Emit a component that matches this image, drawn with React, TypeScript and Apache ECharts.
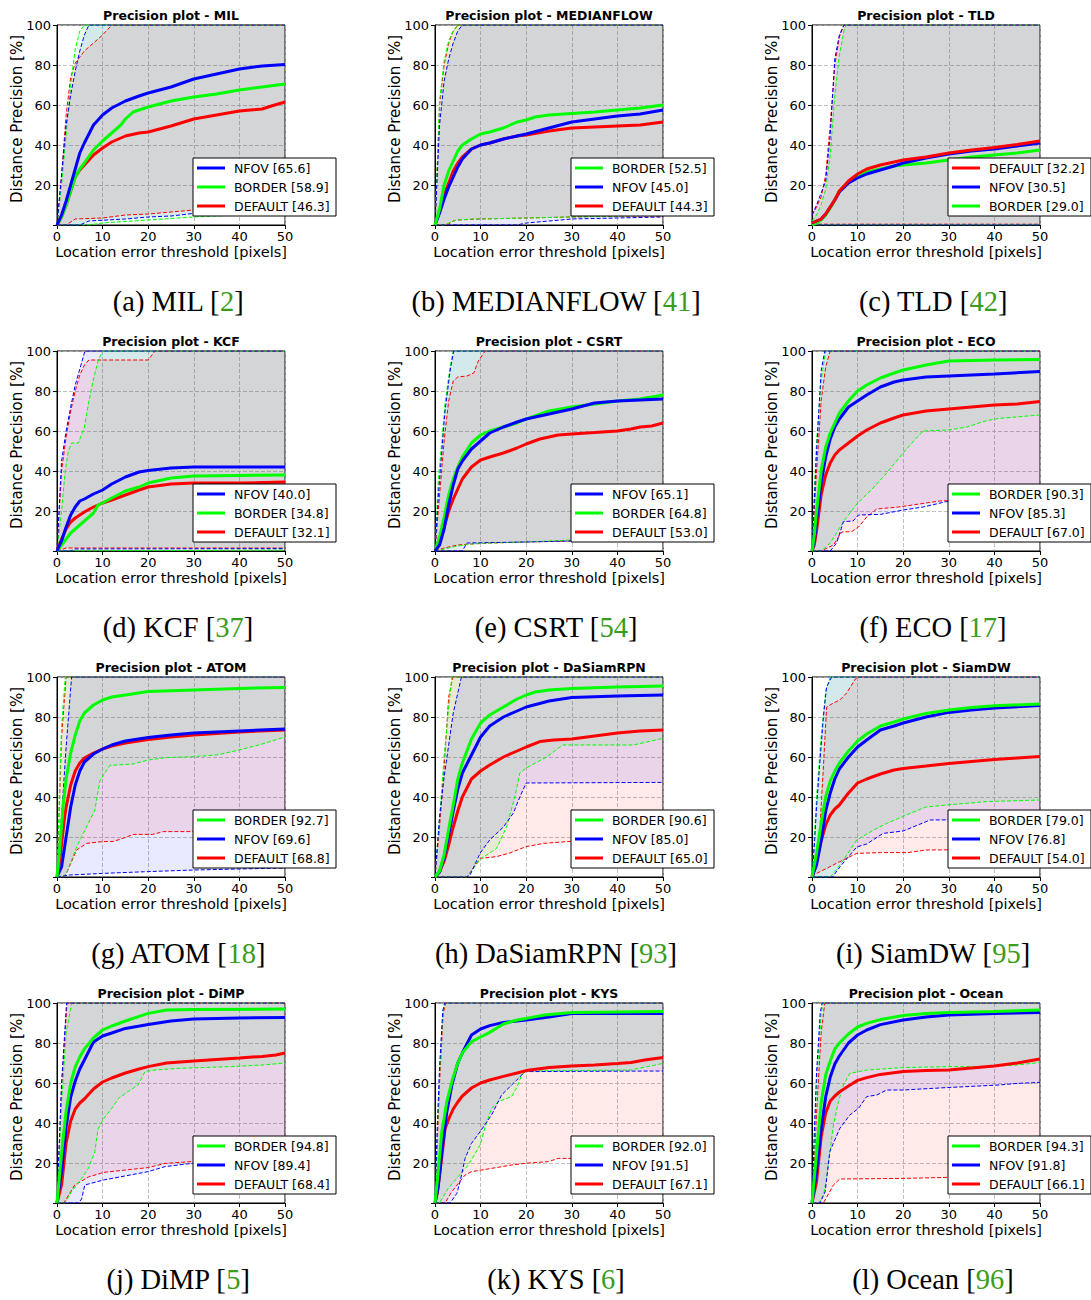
import React, { useEffect, useRef } from 'react';
import * as echarts from 'echarts';

type P = [number, number][];

// ---------------- (a) MIL ----------------
const MIL_N_MAIN: P = [[0,0],[1,5],[2,12],[3,20],[4,28],[5,36],[6,41],[8,50],[10,55],[12,58.5],[15,62],[18,64.5],[20,66],[25,69],[30,73],[35,75.5],[40,78],[45,79.5],[50,80.3]];
const MIL_B_MAIN: P = [[0,0],[1,4],[2,10],[3,17],[4,24],[5,28],[6,31],[8,37.5],[10,42],[12,46],[13,48],[14,50],[15,53],[16.7,56.5],[18,57.5],[20,59],[25,62],[30,64],[35,65.5],[40,67.5],[45,69],[50,70.5]];
const MIL_D_MAIN: P = [[0,0],[1,4],[2,10],[3,17],[4,24],[5,27.5],[6,30],[8,35],[10,38.5],[12,41.5],[15,44.5],[18,46],[20,46.5],[25,49.5],[30,53],[35,55],[40,57],[45,58],[47,59.5],[50,61.5]];
const MIL_N_UP: P = [[0,0],[1,25],[2,50],[3,65],[4,77],[5,87],[6,95],[7,100],[50,100]];
const MIL_B_UP: P = [[0,0],[1,20],[2,45],[3,70],[4,88],[5,97],[6,100],[50,100]];
const MIL_D_UP: P = [[0,0],[1,25],[2,55],[3,74],[4,81],[5,84],[6,87],[8,91],[10,95],[12,100],[50,100]];
const MIL_N_LO: P = [[0,0],[5,0],[7,2],[15,3],[20,4],[25,4.5],[30,5.8],[40,7],[50,8]];
const MIL_B_LO: P = [[0,0],[7,0],[10,1],[20,2.5],[30,4],[40,5],[50,6]];
const MIL_D_LO: P = [[0,0],[2,0],[4,3],[10,3.5],[15,5],[20,5.5],[25,6.5],[30,7.5],[40,8.5],[50,9]];
const MIL_SCORES = [['N', '65.6'], ['B', '58.9'], ['D', '46.3']];

// ---------------- (b) MEDIANFLOW ----------------
const MF_B_MAIN: P = [[0,0],[1,8],[2,20],[3,27],[4,32],[5,37],[6,40],[8,43],[10,45.5],[12,46.5],[15,48.5],[18,51.5],[20,52.5],[22,54],[25,55],[30,55.8],[35,56.5],[40,57.5],[45,58.5],[50,60]];
const MF_N_MAIN: P = [[0,0],[1,6],[2,13],[3,19],[4,24],[5,29],[6,33],[8,38],[10,40],[12,41],[15,43],[18,44.5],[20,45.5],[25,48.5],[30,51.5],[35,53],[40,54.5],[45,55.5],[50,57.5]];
const MF_D_MAIN: P = [[0,0],[1,7],[2,15],[3,21],[4,27],[5,31],[6,34],[8,38],[10,40],[12,41],[15,43],[18,44.5],[20,45],[25,47],[30,48.5],[35,49],[40,49.5],[45,50],[50,51.5]];
const MF_B_UP: P = [[0,0],[1,62],[2,82],[3,92],[4,97],[5,100],[50,100]];
const MF_N_UP: P = [[0,0],[1,50],[2,72],[3,83],[4,91],[5,97],[6,100],[50,100]];
const MF_D_UP: P = [[0,0],[1,60],[2,80],[3,91],[4,97],[5,100],[50,100]];
const MF_B_LO: P = [[0,0],[2,0],[3,1],[4,2],[5,2.5],[8,3],[10,3],[20,3.5],[30,4],[40,4.5],[50,5]];
const MF_N_LO: P = [[0,0],[18,0],[20,1],[25,2],[30,3],[40,3.5],[50,4]];
const MF_D_LO: P = [[0,0],[2,0],[3,0.5],[4,2],[5,2.5],[10,3],[20,3.5],[30,4],[40,4.5],[50,4.5]];
const MF_SCORES = [['B', '52.5'], ['N', '45.0'], ['D', '44.3']];

// ---------------- (c) TLD ----------------
const TLD_D_MAIN: P = [[0,1],[1,2],[2,3],[3,5.5],[4,9],[5,12.5],[6,17],[8,22],[10,25.5],[12,28],[15,30],[18,31.5],[20,32.5],[25,34],[30,36],[35,37.5],[40,38.8],[45,40.3],[50,42]];
const TLD_N_MAIN: P = [[0,1],[1,2],[2,3],[3,5.5],[4,9],[5,12.5],[6,16.5],[8,21],[10,23.5],[12,25.5],[15,27.5],[18,29.5],[20,31],[25,33.5],[30,35.5],[35,37],[40,38],[45,39.5],[50,41]];
const TLD_B_MAIN: P = [[0,0],[1,1],[2,2.5],[3,5],[4,8.5],[5,12.5],[6,17],[8,21.5],[10,24.5],[12,26.5],[15,28],[18,29.5],[20,30],[25,31],[30,32.5],[35,34],[40,35],[45,36],[50,37.5]];
const TLD_N_UP: P = [[0,5],[1,10],[2,16],[3,22],[4,45],[5,83],[6,95],[7,100],[50,100]];
const TLD_D_UP: P = [[0,5],[1,9],[2,14],[3,25],[4,50],[5,80],[6,94],[7,100],[50,100]];
const TLD_B_UP: P = [[0,2],[1,5],[2,10],[3,18],[4,35],[5,65],[6,85],[7,97],[7.5,100],[50,100]];
const TLD_N_LO: P = [[0,0],[50,0]];
const TLD_D_LO: P = [[0,0.4],[50,0.4]];
const TLD_B_LO: P = [[0,0],[50,0]];
const TLD_SCORES = [['D', '32.2'], ['N', '30.5'], ['B', '29.0']];

// ---------------- (d) KCF ----------------
const KCF_N_MAIN: P = [[0,0],[1,5],[2,12],[3,18],[4,22],[5,25],[6,26],[8,28.5],[10,30.5],[12,33.5],[15,37],[18,39.5],[20,40.3],[25,41.5],[30,42],[50,42]];
const KCF_B_MAIN: P = [[0,0],[1,3],[2,6],[3,9],[4,11],[5,13],[6,15],[8,19],[9,23],[10,24],[12,26.5],[15,30],[18,32],[20,34],[25,36.5],[30,37.5],[40,37.8],[50,38]];
const KCF_D_MAIN: P = [[0,0],[1,6],[2,11],[3,14.5],[4,16.5],[5,18],[6,19.5],[8,22],[10,24],[12,25.5],[15,28],[18,30.5],[20,32],[25,33.5],[30,34],[40,34],[50,34.5]];
const KCF_N_UP: P = [[0,0],[1,45],[2,60],[3,72],[4,83],[5,91],[6,99],[6.2,100],[50,100]];
const KCF_B_UP: P = [[0,0],[1,20],[1.8,40],[2.5,50],[3.2,54],[4.7,54],[6,62],[7,75],[8,86],[9,95],[10,100],[50,100]];
const KCF_D_UP: P = [[0,0],[1,40],[2,57],[3,70],[4,80],[5,88],[6,93],[7,95.5],[20,95.5],[21.5,100],[50,100]];
const KCF_N_LO: P = [[0,0],[3,0],[4,1],[50,1.2]];
const KCF_B_LO: P = [[0,0],[50,0.5]];
const KCF_D_LO: P = [[0,0],[2,1.5],[50,1.5]];
const KCF_SCORES = [['N', '40.0'], ['B', '34.8'], ['D', '32.1']];

// ---------------- (e) CSRT ----------------
const CSRT_N_MAIN: P = [[0,0],[1,3],[2,11],[3,23],[4,33],[5,41],[6,45],[8,51],[10,55],[12,59],[15,62],[18,64.5],[20,66],[25,68.5],[30,71],[35,74],[40,75],[45,75.5],[50,76]];
const CSRT_B_MAIN: P = [[0,0],[1,7],[2,17],[3,28],[4,36],[5,42],[6,47],[8,54],[10,58],[12,60],[15,62],[18,64],[20,66],[25,70],[30,72],[35,73.5],[40,75],[45,76],[50,78]];
const CSRT_D_MAIN: P = [[0,0],[1,5],[2,12],[3,20],[4,26],[5,31],[6,36],[8,42],[10,45.5],[12,47],[15,49],[18,51.5],[20,53.5],[23,56],[27,58],[30,58.5],[35,59.2],[40,60],[43,61],[45,62],[47.5,62.5],[50,64]];
const CSRT_N_UP: P = [[0,0],[0.8,30],[1.5,50],[2.2,70],[3.3,90],[4.1,100],[50,100]];
const CSRT_B_UP: P = [[0,0],[0.7,35],[1.5,55],[2.2,74],[3.3,92],[4,100],[50,100]];
const CSRT_D_UP: P = [[0,0],[1,28],[2,55],[3,75],[4,85],[5,87],[7,87.5],[8.5,89],[9.5,95],[11,100],[50,100]];
const CSRT_N_LO: P = [[0,0],[6,0],[7,4],[20,4.5],[30,5],[50,6]];
const CSRT_B_LO: P = [[0,0],[2,1],[5,2.5],[8,3.5],[12,4],[20,4.5],[30,5.5],[50,6.5]];
const CSRT_D_LO: P = [[0,0],[2,1.5],[5,3],[8,3.5],[12,4],[20,4.5],[30,5],[50,6]];
const CSRT_SCORES = [['N', '65.1'], ['B', '64.8'], ['D', '53.0']];

// ---------------- (f) ECO ----------------
const ECO_B_MAIN: P = [[0,0],[0.5,8],[1,20],[2,40],[3,52],[4,59],[5,64],[6,69],[8,75],[10,80],[12,83],[15,86.5],[18,89],[20,90.5],[25,93],[30,95],[40,95.5],[50,95.7]];
const ECO_N_MAIN: P = [[0,0],[0.5,5],[1,15],[2,34],[3,47],[4,56],[5,62],[6,66],[8,72],[10,75],[12,78],[15,82],[18,84.5],[20,85.5],[25,87],[30,87.5],[40,88.5],[50,89.7]];
const ECO_D_MAIN: P = [[0,0],[0.5,3],[1,10],[2,28],[3,38],[4,44],[5,48],[6,50.5],[8,54],[10,57.5],[12,60.5],[15,64],[18,66.5],[20,68],[25,70],[30,71],[35,72],[40,73],[45,73.5],[50,74.7]];
const ECO_B_UP: P = [[0,0],[0.5,30],[1,55],[2,85],[3,100],[50,100]];
const ECO_N_UP: P = [[0,0],[0.5,25],[1,50],[2,90],[2.8,100],[50,100]];
const ECO_D_UP: P = [[0,0],[1,40],[2,75],[3,92],[4,100],[50,100]];
const ECO_B_LO: P = [[0,0],[2,0],[4,4],[7,15],[10,24],[13,30.5],[16,38],[20,49],[22.5,55.5],[24.4,60],[30,60.5],[34,62],[38,65],[41,66.3],[50,68]];
const ECO_N_LO: P = [[0,0],[4,0],[5.4,4],[6.9,14.7],[9,15],[10.2,18],[15,18.3],[20,20.5],[24.4,22],[29.5,24.7],[50,27]];
const ECO_D_LO: P = [[0,0],[2,0],[4.7,3],[6.5,9.5],[8.7,9.7],[10.2,12],[12,17],[14.2,21],[19,22],[22,23],[28,25],[50,27]];
const ECO_SCORES = [['B', '90.3'], ['N', '85.3'], ['D', '67.0']];

// ---------------- (g) ATOM ----------------
const ATOM_B_MAIN: P = [[0,0],[0.7,17],[1.4,37],[2,49],[3,62],[4,71],[5,78],[6,82],[8,86],[10,88.5],[12,90],[15,91],[20,92.7],[30,93.5],[40,94.3],[50,94.8]];
const ATOM_N_MAIN: P = [[0,0],[1,5],[2,20],[3,35],[4,46],[5,53],[6,57.5],[8,61.5],[10,64],[12,66],[15,68],[20,69.8],[25,71],[30,72],[40,73],[50,74]];
const ATOM_D_MAIN: P = [[0,0],[0.7,10],[1.5,27],[2,35],[3,46],[4,53],[5,57],[6,59.5],[8,62],[10,64],[12,65.5],[15,67],[20,68.8],[25,70],[30,71],[40,72.5],[50,73.5]];
const ATOM_B_UP: P = [[0,0],[0.5,40],[1,75],[1.8,100],[50,100]];
const ATOM_N_UP: P = [[0,0],[1,30],[2,65],[3.2,100],[50,100]];
const ATOM_D_UP: P = [[0,0],[0.5,35],[1,70],[2,100],[50,100]];
const ATOM_B_LO: P = [[0,0],[1.4,0],[2.1,2],[4.3,15],[6.9,27],[8.3,33.5],[9.4,48],[10.5,52],[11.6,55.8],[16.7,56.5],[20,58.5],[24,59.7],[30,60.2],[35,61],[40,63.5],[45,66.5],[50,70]];
const ATOM_N_LO: P = [[0,0],[2.8,1],[10,1.8],[20,2.7],[30,3.5],[50,4.5]];
const ATOM_D_LO: P = [[0,0],[1.4,0],[2.1,2],[4.3,13.5],[6.5,16.8],[10,17.7],[12.4,17.8],[15.3,20],[16.7,21.3],[21,21.3],[23.3,22.7],[30,22.7],[50,23.5]];
const ATOM_SCORES = [['B', '92.7'], ['N', '69.6'], ['D', '68.8']];

// ---------------- (h) DaSiamRPN ----------------
const DSR_B_MAIN: P = [[0,0],[1,3],[2,11],[3,24],[4,36],[5,49],[6,57],[8,69],[10,77],[12,81],[15,85],[18,89],[20,91],[22,92.5],[25,93.5],[30,94.3],[40,95],[50,95.5]];
const DSR_N_MAIN: P = [[0,0],[1,2.5],[2,10],[3,21],[4,33],[5,44],[6,52],[8,61],[10,70],[12,75.5],[15,80],[18,83],[20,85],[25,88],[30,89.8],[40,90.5],[50,91]];
const DSR_D_MAIN: P = [[0,0],[1,2.5],[2,8],[3,16],[4,25],[5,33],[6,40],[8,49],[10,53],[12,56],[15,60],[18,63],[20,65],[23,67.7],[26,68.5],[30,69],[35,70.5],[40,72],[45,73],[50,73.5]];
const DSR_B_UP: P = [[0,0],[1,30],[2,60],[3,85],[3.7,100],[50,100]];
const DSR_N_UP: P = [[0,0],[1,30],[2,50],[3,66],[4,82],[5,92],[5.8,100],[50,100]];
const DSR_D_UP: P = [[0,0],[1,25],[2,55],[3,90],[3.9,100],[50,100]];
const DSR_B_LO: P = [[0,0],[7,0],[9,6],[10,9],[11.3,11],[13.5,14.3],[15.7,25],[17.5,40],[18.6,52],[20,54.5],[24.5,60],[28,66],[43.5,66],[50,69.3]];
const DSR_N_LO: P = [[0,0],[7,0],[7.7,1],[9.9,12],[12,18.5],[15,25],[17.2,32],[18.6,40],[20,47],[50,47.3]];
const DSR_D_LO: P = [[0,0],[7,0],[9.9,9.3],[13.5,10.2],[16.4,12],[20,15.2],[23.8,16.8],[29,17.7],[35,18.5],[50,20]];
const DSR_SCORES = [['B', '90.6'], ['N', '85.0'], ['D', '65.0']];

// ---------------- (i) SiamDW ----------------
const SDW_B_MAIN: P = [[0,0],[1,12],[2,27],[3,40],[4,48],[5,53],[6,57],[8,63],[10,68],[12,71.5],[15,75.5],[18,77.5],[20,79],[25,81.8],[30,83.5],[35,84.8],[40,85.6],[50,86.5]];
const SDW_N_MAIN: P = [[0,0],[1,6],[2,18],[3,33],[4,42],[5,49],[6,54],[8,60],[10,65],[12,68.5],[15,73.5],[18,75.5],[20,77],[25,80],[30,82.3],[35,83.5],[40,84.5],[50,85.7]];
const SDW_D_MAIN: P = [[0,0],[1,8],[2,18],[3,26],[4,31],[5,34],[6,36],[8,42],[10,47],[12,49],[15,51.5],[18,53.5],[20,54.3],[25,55.5],[30,56.8],[35,57.8],[40,58.7],[45,59.5],[50,60.3]];
const SDW_B_UP: P = [[0,0],[0.5,20],[1,40],[2,70],[3,93],[4,100],[50,100]];
const SDW_N_UP: P = [[0,0],[0.5,15],[1,35],[1.75,58],[2.5,80],[3.2,95],[4.3,100],[50,100]];
const SDW_D_UP: P = [[0,0],[1,10],[1.75,25],[2.5,55],[3.2,85],[4.7,87],[6.1,88.5],[7.6,92],[9.5,99],[10.2,100],[50,100]];
const SDW_B_LO: P = [[0,0],[4,0],[4.7,1.8],[6.9,8.5],[9.8,18.5],[13.5,23.5],[16.4,26.8],[21.5,31.8],[25,35],[29.5,36],[38.3,37.7],[50,38.5]];
const SDW_N_LO: P = [[0,0],[4.5,0],[6.1,5],[9.8,15],[12,16.5],[15.6,21.8],[20,23],[25.9,28.5],[50,29]];
const SDW_D_LO: P = [[0,0],[1,1.8],[3.2,4.3],[6.1,7.7],[9.8,11.8],[15,12.2],[21,12.2],[25,13.5],[50,14]];
const SDW_SCORES = [['B', '79.0'], ['N', '76.8'], ['D', '54.0']];

// ---------------- (j) DiMP ----------------
const DIMP_B_MAIN: P = [[0,0],[1,25],[2,46],[3,60],[4,68],[5,73],[6,77],[8,82.5],[10,86.5],[12,88.5],[15,91],[18,93.3],[20,94.8],[24,96.5],[30,96.8],[50,97]];
const DIMP_N_MAIN: P = [[0,0],[1,16],[2,38],[3,53],[4,61],[5,67],[6,71.5],[8,80.5],[10,83.5],[12,85],[15,87.3],[20,89.3],[25,91],[30,92],[40,92.5],[50,92.8]];
const DIMP_D_MAIN: P = [[0,0],[1,9],[2,30],[3,41],[4,47],[5,50],[6,52],[8,57],[10,60.5],[12,62.5],[15,65],[18,67],[20,68.2],[24,70],[30,71],[35,71.8],[40,72.5],[45,73.3],[48,74],[50,75]];
const DIMP_B_UP: P = [[0,0],[0.5,25],[1,50],[2,85],[3.2,100],[50,100]];
const DIMP_N_UP: P = [[0,0],[0.5,30],[1,60],[2.1,100],[50,100]];
const DIMP_D_UP: P = [[0,0],[0.5,28],[1,58],[2.2,100],[50,100]];
const DIMP_B_LO: P = [[0,0],[1.75,0],[3.2,5.7],[5.4,12.3],[6.9,17.3],[8.3,25.7],[9,37],[10.2,42],[12,47.3],[13.5,52.3],[15.6,55.7],[17.8,59],[19.3,65.7],[21.5,66.5],[26.6,67.3],[38.3,68.2],[45,69],[50,70]];
const DIMP_N_LO: P = [[0,0],[4.7,0],[5.4,2],[6.1,9],[10.2,11.5],[14.9,13.5],[20,15.7],[23.7,18.2],[29.5,19.8],[50,21]];
const DIMP_D_LO: P = [[0,0],[1.5,0],[3.9,9],[6.9,13],[10.2,15.3],[15,16.5],[20,17.7],[23.7,19.8],[29.5,20.7],[50,21.5]];
const DIMP_SCORES = [['B', '94.8'], ['N', '89.4'], ['D', '68.4']];

// ---------------- (k) KYS ----------------
const KYS_B_MAIN: P = [[0,0],[0.7,15.7],[1.5,35.7],[2.6,50.7],[3.7,60.7],[5,70],[6,75],[8,80.7],[10,83],[12,85.3],[15,89.5],[18,91.5],[20,92.3],[24,94],[30,95.3],[50,95.7]];
const KYS_N_MAIN: P = [[0,0],[0.7,8],[1.5,25.7],[2.6,45.7],[3.7,59],[5,70],[6,75],[8,84],[10,87],[12,88.7],[15,90.3],[20,91.5],[25,93],[30,94.8],[50,94.8]];
const KYS_D_MAIN: P = [[0,0],[0.5,5],[1.1,15.7],[2.2,37],[3,42],[4,47],[5,50.5],[6,53.5],[8,57.5],[10,60],[12,61.5],[15,63.3],[18,65],[20,66.2],[25,67.8],[30,68.5],[35,69],[40,69.8],[43,70.3],[46,71.5],[50,72.7]];
const KYS_B_UP: P = [[0,0],[0.5,35],[1,65],[1.7,95],[2.2,100],[50,100]];
const KYS_N_UP: P = [[0,0],[0.5,38],[1,68],[1.7,96],[2.1,100],[50,100]];
const KYS_D_UP: P = [[0,0],[0.5,30],[1,60],[1.8,95],[2.4,100],[50,100]];
const KYS_B_LO: P = [[0,0],[1,0],[2.9,7.3],[5.1,13.2],[7.3,19],[9.9,29],[11,38],[12.4,47.3],[13.9,50.7],[16.8,53.2],[18,58],[19,64],[20,66],[43,66.5],[50,69.8]];
const KYS_N_LO: P = [[0,0],[3.3,0],[4.8,4.8],[5.5,10.7],[6.6,22.3],[8,29.8],[9.9,35.7],[12.4,44],[14.6,54],[16.8,59],[18.3,62.3],[19.7,65.7],[50,66]];
const KYS_D_LO: P = [[0,0],[2.2,0],[3.7,5.7],[6.6,14],[8,15.7],[12.4,17.3],[16.8,19],[19.7,19.8],[24.9,20.7],[27,22.3],[30,22.3],[50,23.5]];
const KYS_SCORES = [['B', '92.0'], ['N', '91.5'], ['D', '67.1']];

// ---------------- (l) Ocean ----------------
const OCEAN_B_MAIN: P = [[0,0],[1,25],[2,50],[3,64],[4,71],[5,77],[6,80],[8,84.5],[10,88],[12,89.8],[15,91.7],[20,93.7],[25,94.8],[30,95.3],[40,95.8],[50,96.5]];
const OCEAN_N_MAIN: P = [[0,0],[1,16],[2,37],[3,53],[4,63],[5,69.5],[6,73.5],[8,80],[10,84],[12,86.5],[15,89.2],[20,91.5],[25,93],[30,94],[40,94.7],[50,95.3]];
const OCEAN_D_MAIN: P = [[0,0],[1,10.7],[2,33],[3,45],[4,51],[5,53.5],[6,55.5],[8,58.5],[10,61.3],[12,62.7],[15,64.3],[20,65.7],[25,66.2],[30,66.5],[35,67.5],[40,68.5],[45,70],[50,72]];
const OCEAN_B_UP: P = [[0,0],[0.5,30],[1,60],[2,95],[2.5,100],[50,100]];
const OCEAN_N_UP: P = [[0,0],[0.5,35],[1,65],[1.8,95],[2.2,100],[50,100]];
const OCEAN_D_UP: P = [[0,0],[0.5,20],[1,45],[2,85],[2.8,100],[50,100]];
const OCEAN_B_LO: P = [[0,0],[1.5,0],[2.5,4],[3.2,12.3],[4.7,39],[5.8,50.7],[6.9,59],[8.3,64.8],[12,66.5],[20,67.7],[30,68.2],[38,68.2],[45,69],[50,70.3]];
const OCEAN_N_LO: P = [[0,0],[1.75,0],[2.9,5.7],[3.9,25.7],[6.1,37.3],[8.3,44],[10.2,47.3],[12,53.2],[14.2,54],[16.4,56.5],[20,56.5],[29.5,57.7],[34,58.2],[41,59],[45,59.8],[50,60.3]];
const OCEAN_D_LO: P = [[0,0],[2.5,0],[4.7,9],[6.1,12],[20,12.3],[30,12.8],[50,13.5]];
const OCEAN_SCORES = [['B', '94.3'], ['N', '91.8'], ['D', '66.1']];

// ---------------- tick labels / texts ----------------
const X_TICKS = [0, 10, 20, 30, 40, 50];
const Y_TICKS = [20, 40, 60, 80, 100];
const X_NAME = 'Location error threshold [pixels]';
const Y_NAME = 'Distance Precision [%]';

type Curves = { [k: string]: [P, P, P] };
type Plot = { title: string; cap: string; cite: string; scores: string[][]; c: Curves };

const PLOTS: Plot[] = [
  { title: 'MIL', cap: '(a) MIL', cite: '2', scores: MIL_SCORES, c: { B: [MIL_B_MAIN, MIL_B_UP, MIL_B_LO], N: [MIL_N_MAIN, MIL_N_UP, MIL_N_LO], D: [MIL_D_MAIN, MIL_D_UP, MIL_D_LO] } },
  { title: 'MEDIANFLOW', cap: '(b) MEDIANFLOW', cite: '41', scores: MF_SCORES, c: { B: [MF_B_MAIN, MF_B_UP, MF_B_LO], N: [MF_N_MAIN, MF_N_UP, MF_N_LO], D: [MF_D_MAIN, MF_D_UP, MF_D_LO] } },
  { title: 'TLD', cap: '(c) TLD', cite: '42', scores: TLD_SCORES, c: { B: [TLD_B_MAIN, TLD_B_UP, TLD_B_LO], N: [TLD_N_MAIN, TLD_N_UP, TLD_N_LO], D: [TLD_D_MAIN, TLD_D_UP, TLD_D_LO] } },
  { title: 'KCF', cap: '(d) KCF', cite: '37', scores: KCF_SCORES, c: { B: [KCF_B_MAIN, KCF_B_UP, KCF_B_LO], N: [KCF_N_MAIN, KCF_N_UP, KCF_N_LO], D: [KCF_D_MAIN, KCF_D_UP, KCF_D_LO] } },
  { title: 'CSRT', cap: '(e) CSRT', cite: '54', scores: CSRT_SCORES, c: { B: [CSRT_B_MAIN, CSRT_B_UP, CSRT_B_LO], N: [CSRT_N_MAIN, CSRT_N_UP, CSRT_N_LO], D: [CSRT_D_MAIN, CSRT_D_UP, CSRT_D_LO] } },
  { title: 'ECO', cap: '(f) ECO', cite: '17', scores: ECO_SCORES, c: { B: [ECO_B_MAIN, ECO_B_UP, ECO_B_LO], N: [ECO_N_MAIN, ECO_N_UP, ECO_N_LO], D: [ECO_D_MAIN, ECO_D_UP, ECO_D_LO] } },
  { title: 'ATOM', cap: '(g) ATOM', cite: '18', scores: ATOM_SCORES, c: { B: [ATOM_B_MAIN, ATOM_B_UP, ATOM_B_LO], N: [ATOM_N_MAIN, ATOM_N_UP, ATOM_N_LO], D: [ATOM_D_MAIN, ATOM_D_UP, ATOM_D_LO] } },
  { title: 'DaSiamRPN', cap: '(h) DaSiamRPN', cite: '93', scores: DSR_SCORES, c: { B: [DSR_B_MAIN, DSR_B_UP, DSR_B_LO], N: [DSR_N_MAIN, DSR_N_UP, DSR_N_LO], D: [DSR_D_MAIN, DSR_D_UP, DSR_D_LO] } },
  { title: 'SiamDW', cap: '(i) SiamDW', cite: '95', scores: SDW_SCORES, c: { B: [SDW_B_MAIN, SDW_B_UP, SDW_B_LO], N: [SDW_N_MAIN, SDW_N_UP, SDW_N_LO], D: [SDW_D_MAIN, SDW_D_UP, SDW_D_LO] } },
  { title: 'DiMP', cap: '(j) DiMP', cite: '5', scores: DIMP_SCORES, c: { B: [DIMP_B_MAIN, DIMP_B_UP, DIMP_B_LO], N: [DIMP_N_MAIN, DIMP_N_UP, DIMP_N_LO], D: [DIMP_D_MAIN, DIMP_D_UP, DIMP_D_LO] } },
  { title: 'KYS', cap: '(k) KYS', cite: '6', scores: KYS_SCORES, c: { B: [KYS_B_MAIN, KYS_B_UP, KYS_B_LO], N: [KYS_N_MAIN, KYS_N_UP, KYS_N_LO], D: [KYS_D_MAIN, KYS_D_UP, KYS_D_LO] } },
  { title: 'Ocean', cap: '(l) Ocean', cite: '96', scores: OCEAN_SCORES, c: { B: [OCEAN_B_MAIN, OCEAN_B_UP, OCEAN_B_LO], N: [OCEAN_N_MAIN, OCEAN_N_UP, OCEAN_N_LO], D: [OCEAN_D_MAIN, OCEAN_D_UP, OCEAN_D_LO] } },
];

// ---------------- layout / style ----------------
const COL_LEFT = [57, 435, 812];
const ROW_TOP = [25, 351, 677, 1003];
const PW = 228;
const PH = 200;
const FILL_ORDER = ['D', 'B', 'N'];
const COLORS: Record<string, string> = { B: '#00ff00', N: '#0000ff', D: '#ff0000' };
const FILLS: Record<string, string> = { B: 'rgba(0,255,0,0.085)', N: 'rgba(0,0,255,0.085)', D: 'rgba(255,0,0,0.085)' };
const NAMES: Record<string, string> = { B: 'BORDER', N: 'NFOV', D: 'DEFAULT' };
const SANS = '"DejaVu Sans", sans-serif';
const SERIF = '"Liberation Serif", "DejaVu Serif", serif';
const CITE = '#3a9c1c';

function buildOption() {
  const grid: any[] = [];
  const xAxis: any[] = [];
  const yAxis: any[] = [];
  const series: any[] = [];
  const graphic: any[] = [];

  PLOTS.forEach((pl, i) => {
    const left = COL_LEFT[i % 3];
    const top = ROW_TOP[Math.floor(i / 3)];
    grid.push({ left, top, width: PW, height: PH, show: true, borderColor: '#000', borderWidth: 1, backgroundColor: 'transparent' });
    const textCommon = { color: '#000', fontFamily: SANS };
    xAxis.push({
      gridIndex: i, type: 'value', min: X_TICKS[0], max: X_TICKS[X_TICKS.length - 1], interval: 10,
      axisLine: { show: true, onZero: false, lineStyle: { color: '#000', width: 1 } },
      axisTick: { show: true, length: 4, lineStyle: { color: '#000' } },
      axisLabel: { ...textCommon, fontSize: 13, margin: 5 },
      splitLine: { show: true, lineStyle: { color: '#b0b0b0', type: [4, 2], width: 0.8 } },
      name: X_NAME, nameLocation: 'middle', nameGap: 19,
      nameTextStyle: { ...textCommon, fontSize: 14.5 },
    });
    yAxis.push({
      gridIndex: i, type: 'value', min: 0, max: Y_TICKS[Y_TICKS.length - 1], interval: 20,
      axisLine: { show: true, onZero: false, lineStyle: { color: '#000', width: 1 } },
      axisTick: { show: true, length: 4, lineStyle: { color: '#000' } },
      axisLabel: { ...textCommon, fontSize: 13, margin: 6, formatter: (v: number) => (Y_TICKS.indexOf(v) >= 0 ? String(v) : '') },
      splitLine: { show: true, lineStyle: { color: '#b0b0b0', type: [4, 2], width: 0.8 } },
    });

    const keys = pl.scores.map((s) => s[0]);
    // bands
    FILL_ORDER.forEach((k) => {
      const [, up, lo] = pl.c[k];
      series.push({
        type: 'custom', xAxisIndex: i, yAxisIndex: i, silent: true, z: 1,
        data: [[0, 0]],
        renderItem: (_p: any, api: any) => {
          const pts = up.map((p) => api.coord(p)).concat(lo.slice().reverse().map((p) => api.coord(p)));
          return { type: 'polygon', shape: { points: pts }, style: { fill: FILLS[k], lineWidth: 0 } };
        },
      });
    });
    // dashed bounds
    FILL_ORDER.forEach((k) => {
      const [, up, lo] = pl.c[k];
      [up, lo].forEach((d) => {
        series.push({
          type: 'line', xAxisIndex: i, yAxisIndex: i, data: d, showSymbol: false, symbol: 'none', silent: true, z: 2,
          lineStyle: { color: COLORS[k], width: 1, type: [4, 2] },
        });
      });
    });
    // main curves
    keys.slice().reverse().forEach((k) => {
      series.push({
        type: 'line', xAxisIndex: i, yAxisIndex: i, data: pl.c[k][0], showSymbol: false, symbol: 'none', silent: true, z: 3,
        lineStyle: { color: COLORS[k], width: 3 },
      });
    });

    // title
    graphic.push({
      type: 'text', x: left + PW / 2, y: top - 10, z: 100,
      style: { text: 'Precision plot - ' + pl.title, font: 'bold 12.5px ' + SANS, fill: '#000', align: 'center', verticalAlign: 'middle' },
    });
    // y axis name
    graphic.push({
      type: 'text', x: left - 40, y: top + 94, rotation: Math.PI / 2, z: 100,
      style: { text: Y_NAME, font: '15px ' + SANS, fill: '#000', align: 'center', verticalAlign: 'middle' },
    });
    // legend
    const lx = left + 136;
    const ly = top + 133;
    graphic.push({ type: 'rect', z: 100, shape: { x: lx, y: ly, width: 143, height: 58 }, style: { fill: '#fff', stroke: '#000', lineWidth: 1 } });
    pl.scores.forEach((s, j) => {
      const yy = ly + 10 + j * 19;
      graphic.push({ type: 'line', z: 101, shape: { x1: lx + 4, y1: yy, x2: lx + 32, y2: yy }, style: { stroke: COLORS[s[0]], lineWidth: 3 } });
      graphic.push({
        type: 'text', z: 101, x: lx + 41, y: yy,
        style: { text: NAMES[s[0]] + ' [' + s[1] + ']', font: '12.5px ' + SANS, fill: '#000', align: 'left', verticalAlign: 'middle' },
      });
    });
    // caption
    graphic.push({
      type: 'text', z: 100, x: left + PW / 2 + 7, y: top + 276,
      style: {
        text: '{a|' + pl.cap + ' [}{c|' + pl.cite + '}{a|]}',
        align: 'center', verticalAlign: 'middle',
        rich: {
          a: { font: '28.5px ' + SERIF, fill: '#000' },
          c: { font: '28.5px ' + SERIF, fill: CITE },
        },
      },
    });
  });

  return { animation: false, backgroundColor: '#fff', grid, xAxis, yAxis, series, graphic };
}

export default function App() {
  const ref = useRef<HTMLDivElement>(null);
  useEffect(() => {
    if (!ref.current) return;
    const chart = echarts.init(ref.current, null, { renderer: 'svg' });
    chart.setOption(buildOption() as any);
    return () => chart.dispose();
  }, []);
  return <div ref={ref} style={{ position: 'absolute', left: 0, top: 0, width: 1091, height: 1300, background: '#fff' }} />;
}
